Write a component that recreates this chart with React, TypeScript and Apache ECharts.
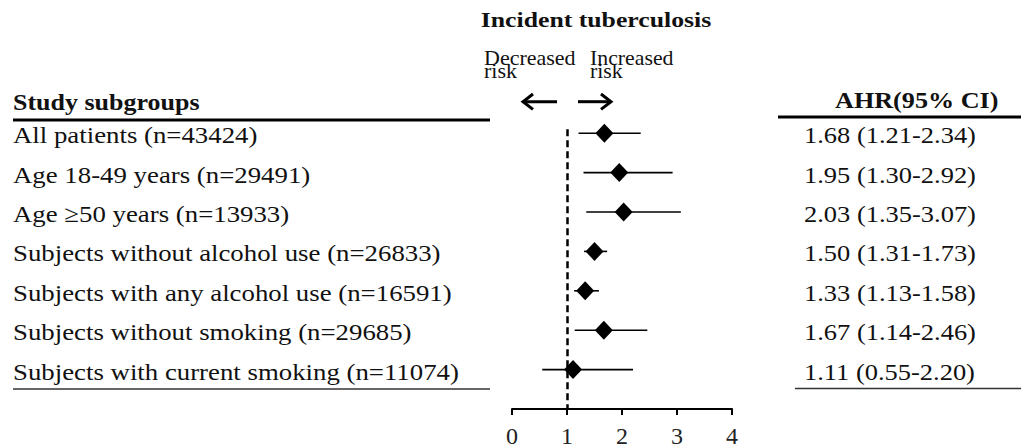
import React, { useEffect, useRef } from "react";
import * as echarts from "echarts";

const subgroups = [
  "All patients (n=43424)",
  "Age 18-49 years (n=29491)",
  "Age \u226550 years (n=13933)",
  "Subjects without alcohol use (n=26833)",
  "Subjects with any alcohol use (n=16591)",
  "Subjects without smoking (n=29685)",
  "Subjects with current smoking (n=11074)",
];
const ahr = [1.68, 1.95, 2.03, 1.5, 1.33, 1.67, 1.11];
const ciLow = [1.21, 1.3, 1.35, 1.31, 1.13, 1.14, 0.55];
const ciHigh = [2.34, 2.92, 3.07, 1.73, 1.58, 2.46, 2.2];
const xTicks = [0, 1, 2, 3, 4];
const titleText = "Incident tuberculosis";
const leftHeader = "Study subgroups";
const rightHeader = "AHR(95% CI)";
const decreasedLabel = ["Decreased", "risk"];
const increasedLabel = ["Increased", "risk"];
const refValue = 1;

const SERIF = '"Liberation Serif", "Times New Roman", serif';

export default function App() {
  const ref = useRef<HTMLDivElement>(null);

  useEffect(() => {
    if (!ref.current) return;
    const chart = echarts.init(ref.current, null, { renderer: "svg" });

    const rows = subgroups.map((_, i) => i + 1);
    const whiskerData = rows.map((r, i) => [ciLow[i], ciHigh[i], r, i]);
    const pointData = rows.map((r, i) => [ahr[i], r]);

    const txt = (
      text: string,
      x: number,
      y: number,
      size: number,
      scaleX: number,
      bold: boolean,
      align: string = "left"
    ) => ({
      type: "text",
      x,
      y,
      scaleX,
      silent: true,
      style: {
        text,
        x: 0,
        y: 0,
        fontSize: size,
        fontFamily: SERIF,
        fontWeight: bold ? "bold" : "normal",
        fill: "#111",
        align,
        verticalAlign: "middle",
      },
    });

    const option: any = {
      animation: false,
      backgroundColor: "#ffffff",
      grid: { left: 512, width: 220, top: 93.8, height: 316.7 },
      xAxis: {
        type: "value",
        min: xTicks[0],
        max: xTicks[xTicks.length - 1],
        interval: 1,
        position: "bottom",
        splitLine: { show: false },
        axisLine: { show: true, onZero: false, lineStyle: { color: "#000", width: 2 } },
        axisTick: { show: true, length: 6, lineStyle: { color: "#000", width: 2 } },
        axisLabel: {
          fontSize: 24,
          fontFamily: SERIF,
          color: "#222",
          margin: 15,
        },
      },
      yAxis: {
        type: "value",
        min: 0,
        max: 8,
        inverse: true,
        show: false,
      },
      series: [
        {
          type: "custom",
          data: whiskerData,
          encode: { x: [0, 1], y: 2 },
          clip: false,
          renderItem: (params: any, api: any) => {
            const i = api.value(3);
            const lo = api.coord([api.value(0), api.value(2)]);
            const hi = api.coord([api.value(1), api.value(2)]);
            const label = `${ahr[i].toFixed(2)} (${ciLow[i].toFixed(2)}-${ciHigh[i].toFixed(2)})`;
            return {
              type: "group",
              children: [
                {
                  type: "line",
                  shape: { x1: lo[0], y1: lo[1], x2: hi[0], y2: hi[1] },
                  style: { stroke: "#000", lineWidth: 1.6 },
                },
                txt(subgroups[i], 13, lo[1] + 2, 24, 1.117, false),
                txt(label, 804, lo[1] + 2, 23.5, 1.126, false),
              ],
            };
          },
          z: 2,
        },
        {
          type: "scatter",
          data: pointData,
          symbol: "diamond",
          symbolSize: [18, 19],
          itemStyle: { color: "#000", opacity: 1 },
          z: 3,
          markLine: {
            silent: true,
            symbol: ["none", "none"],
            label: { show: false },
            lineStyle: { color: "#000", width: 2.5, type: [7, 4], opacity: 1 },
            data: [[{ coord: [refValue, 0.9] }, { coord: [refValue, 8] }]],
          },
        },
      ],
      graphic: [
        txt(titleText, 596, 19.9, 22, 1.17, true, "center"),
        txt(decreasedLabel[0], 484, 58.3, 20, 1.1, false),
        txt(decreasedLabel[1], 484, 71.3, 20, 1.1, false),
        txt(increasedLabel[0], 590, 58.3, 20, 1.09, false),
        txt(increasedLabel[1], 590, 71.3, 20, 1.09, false),
        txt(leftHeader, 13, 102.2, 23, 1.13, true),
        txt(rightHeader, 835, 99.9, 24, 1.09, true),
        {
          type: "line",
          shape: { x1: 557, y1: 101.7, x2: 524, y2: 101.7 },
          style: { stroke: "#000", lineWidth: 3 },
        },
        {
          type: "polyline",
          shape: { points: [[533, 94], [523, 101.7], [533, 109.4]] },
          style: { stroke: "#000", lineWidth: 3, fill: null },
        },
        {
          type: "line",
          shape: { x1: 578, y1: 101.7, x2: 610, y2: 101.7 },
          style: { stroke: "#000", lineWidth: 3 },
        },
        {
          type: "polyline",
          shape: { points: [[601, 94], [611, 101.7], [601, 109.4]] },
          style: { stroke: "#000", lineWidth: 3, fill: null },
        },
        {
          type: "line",
          shape: { x1: 13, y1: 120, x2: 490, y2: 120 },
          style: { stroke: "#000", lineWidth: 3 },
        },
        {
          type: "line",
          shape: { x1: 778, y1: 117, x2: 1021, y2: 117 },
          style: { stroke: "#000", lineWidth: 3 },
        },
        {
          type: "line",
          shape: { x1: 13, y1: 389, x2: 490, y2: 389 },
          style: { stroke: "#333", lineWidth: 1.6 },
        },
        {
          type: "line",
          shape: { x1: 795, y1: 388.5, x2: 1021, y2: 388.5 },
          style: { stroke: "#333", lineWidth: 1.6 },
        },
      ],
    };

    chart.setOption(option);
    return () => {
      chart.dispose();
    };
  }, []);

  return (
    <div
      ref={ref}
      style={{ position: "absolute", left: 0, top: 0, width: 1021, height: 448, background: "#fff" }}
    />
  );
}
